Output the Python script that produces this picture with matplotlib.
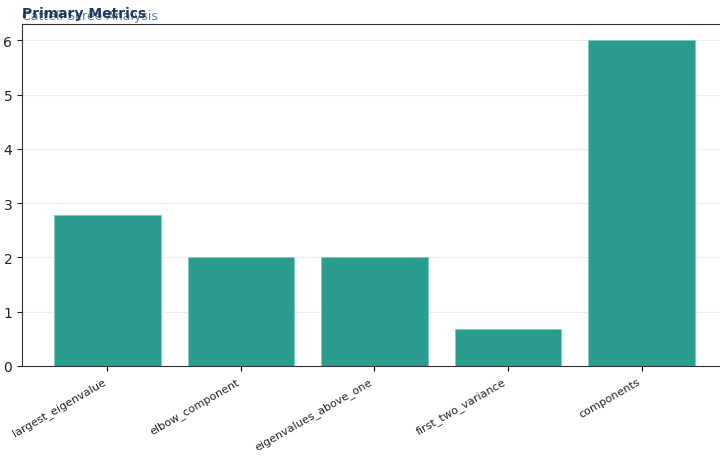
import matplotlib
matplotlib.use("Agg")
import matplotlib.pyplot as plt

metrics = ["largest_eigenvalue", "elbow_component", "eigenvalues_above_one",
           "first_two_variance", "components"]
values = [2.79, 2.0, 2.0, 0.68, 6.0]

fig = plt.figure(figsize=(7.2, 4.6), dpi=100)
# axes runs a little past the right edge, like the reference
ax = fig.add_axes([22 / 720, 1 - 367 / 460, 705 / 720, 342 / 460])

ax.bar(range(len(metrics)), values, width=0.8, color="#2a9d8f",
       edgecolor="#7fcabf", linewidth=0.6, zorder=3)
ax.set_xticks(range(len(metrics)))
ax.set_xticklabels(metrics, rotation=30, ha="right", fontsize=8, color="#222222")
ax.tick_params(axis="y", labelsize=10, colors="#222222")
ax.set_ylabel("Value", fontsize=9, color="#444444", labelpad=14)
ax.grid(axis="y", color="#ececec", linewidth=0.8, zorder=0)
ax.set_axisbelow(True)
for side in ["left", "bottom", "top", "right"]:
    ax.spines[side].set_color("#333333")

fig.text(22 / 720, 1 - 20 / 460, "Cattell Scree Analysis", fontsize=9,
         color="#6b7b8a", ha="left", va="baseline")
fig.text(22 / 720, 1 - 18 / 460, "Primary Metrics", fontsize=10, fontweight="bold",
         color="#1d3a5c", ha="left", va="baseline")

fig.savefig("out.png", dpi=100)
